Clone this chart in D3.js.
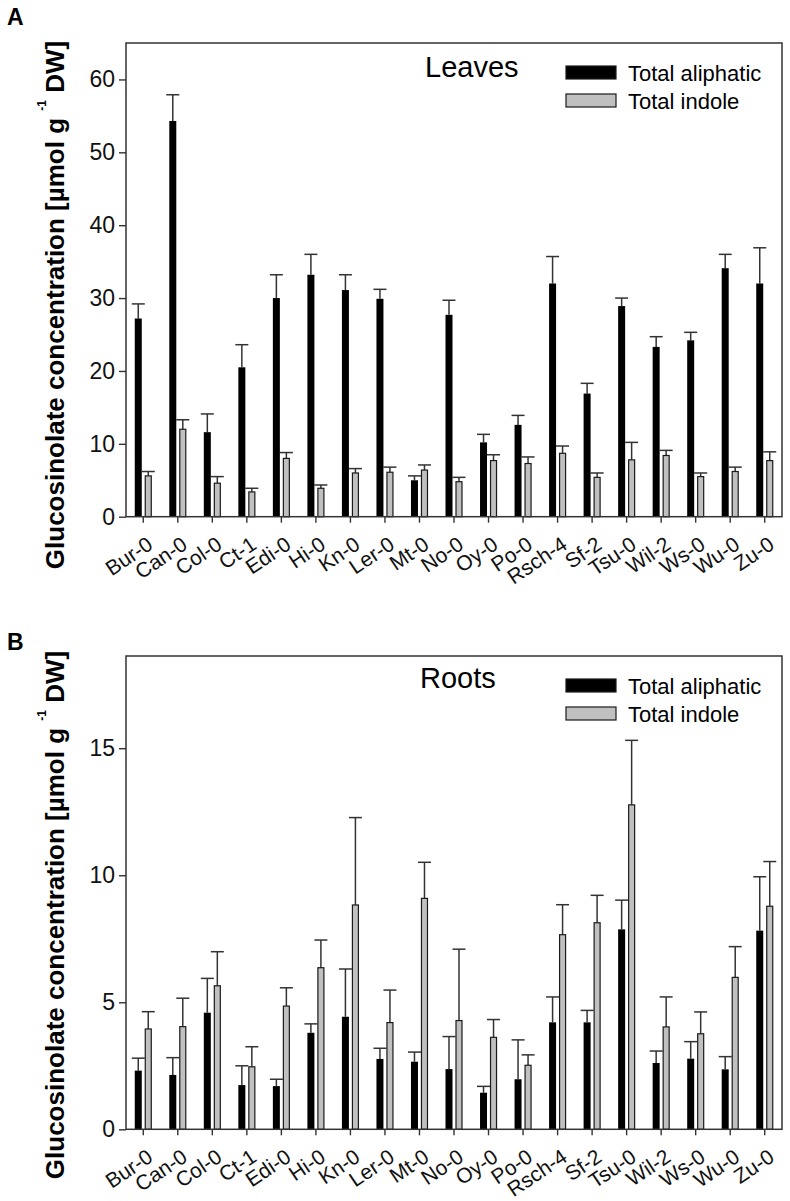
<!DOCTYPE html>
<html><head><meta charset="utf-8">
<script src="https://cdn.jsdelivr.net/npm/d3@7"></script>
<style>body{margin:0;background:#fff} svg{display:block} text{font-family:Arial,"Liberation Sans",Helvetica,sans-serif}</style>
</head><body><svg id="c" width="790" height="1201"></svg>
<script>
const categories = ["Bur-0","Can-0","Col-0","Ct-1","Edi-0","Hi-0","Kn-0","Ler-0","Mt-0","No-0","Oy-0","Po-0","Rsch-4","Sf-2","Tsu-0","Wil-2","Ws-0","Wu-0","Zu-0"];
const seriesNames = ["Total aliphatic","Total indole"];

const leavesAliphatic    = [27.2,54.3,11.6,20.5,30.0,33.2,31.1,29.9,5.0,27.7,10.2,12.6,32.0,16.9,28.9,23.3,24.2,34.1,32.0];
const leavesAliphaticErr = [2.0,3.6,2.5,3.1,3.2,2.8,2.1,1.3,0.6,2.0,1.1,1.3,3.7,1.4,1.1,1.4,1.1,1.9,4.9];
const leavesIndole       = [5.6,12.0,4.6,3.4,8.0,3.9,6.0,6.1,6.4,4.8,7.7,7.3,8.7,5.4,7.8,8.4,5.5,6.2,7.7];
const leavesIndoleErr    = [0.6,1.3,0.9,0.5,0.8,0.45,0.6,0.7,0.7,0.6,0.8,0.9,1.0,0.6,2.4,0.7,0.5,0.6,1.2];

const rootsAliphatic     = [2.31,2.14,4.59,1.74,1.70,3.80,4.43,2.77,2.66,2.37,1.44,1.97,4.21,4.21,7.87,2.61,2.78,2.36,7.82];
const rootsAliphaticErr  = [0.49,0.68,1.35,0.76,0.27,0.35,1.88,0.42,0.38,1.28,0.25,1.55,1.0,0.47,1.15,0.47,0.67,0.5,2.12];
const rootsIndole        = [3.95,4.04,5.65,2.46,4.85,6.36,8.83,4.20,9.09,4.28,3.62,2.52,7.66,8.13,12.77,4.03,3.76,5.98,8.78];
const rootsIndoleErr     = [0.68,1.12,1.34,0.79,0.72,1.09,3.44,1.28,1.42,2.81,0.70,0.41,1.18,1.08,2.54,1.18,0.86,1.21,1.76];

const leavesTicks = [0,10,20,30,40,50,60];
const rootsTicks = [0,5,10,15];

const svg = d3.select("#c");
const LEFT = 126, RIGHT = 782;
const AX = "#333";

function panel(o){
  const g = svg.append("g");
  const x = d3.scaleBand().domain(categories).range([LEFT, RIGHT]).padding(0);
  const y = d3.scaleLinear().domain([0, o.ymax]).range([o.bottom, o.top]);
  const cx = c => x(c) + x.bandwidth()/2;

  const drawErr = (vals, errs, off) => {
    const eg = g.append("g").attr("stroke", AX).attr("stroke-width", 1.5).attr("fill","none");
    categories.forEach((c,i)=>{
      const xc = cx(c) + off;
      eg.append("line").attr("x1",xc).attr("x2",xc).attr("y1",y(vals[i])).attr("y2",y(vals[i]+errs[i]));
      eg.append("line").attr("x1",xc-6.5).attr("x2",xc+6.5).attr("y1",y(vals[i]+errs[i])).attr("y2",y(vals[i]+errs[i]));
    });
  };
  drawErr(o.alip, o.alipErr, -5);
  drawErr(o.ind, o.indErr, 5);

  g.append("g").selectAll("rect").data(categories).join("rect")
    .attr("x", c => cx(c) - 8.5).attr("width", 7)
    .attr("y", (c,i) => y(o.alip[i])).attr("height", (c,i) => o.bottom - y(o.alip[i]))
    .attr("fill", "#000");
  g.append("g").selectAll("rect").data(categories).join("rect")
    .attr("x", c => cx(c) + 2).attr("width", 6)
    .attr("y", (c,i) => y(o.ind[i])).attr("height", (c,i) => o.bottom - y(o.ind[i]))
    .attr("fill", "#c0c0c0").attr("stroke", "#1a1a1a").attr("stroke-width", 1.2);

  const ya = g.append("g").attr("transform", `translate(${LEFT},0)`)
    .call(d3.axisLeft(y).tickValues(o.ticks).tickSize(7).tickPadding(4).tickFormat(d3.format("d")));
  ya.select(".domain").remove();
  ya.selectAll("line").attr("stroke", AX).attr("stroke-width", 1.4);
  ya.selectAll("text").attr("font-size", 23).attr("fill", "#111").attr("font-family", "Arial, 'Liberation Sans', sans-serif");

  const xa = g.append("g").attr("transform", `translate(0,${o.bottom})`)
    .call(d3.axisBottom(x).tickSize(6).tickPadding(0));
  xa.select(".domain").remove();
  xa.selectAll("line").attr("stroke", AX).attr("stroke-width", 1.4);
  xa.selectAll("text")
    .attr("font-size", 21).attr("fill", "#111").attr("font-family", "Arial, 'Liberation Sans', sans-serif")
    .attr("text-anchor", "end").attr("dy", null).attr("y", 0)
    .attr("transform", "translate(11,31) rotate(-34)");

  g.append("rect").attr("x", LEFT).attr("y", o.top).attr("width", RIGHT-LEFT).attr("height", o.bottom-o.top)
    .attr("fill", "none").attr("stroke", AX).attr("stroke-width", 1.5);

  const t = g.append("text").attr("transform", `translate(64,${o.titleY}) rotate(-90)`)
    .attr("text-anchor", "middle").attr("font-weight", "bold").attr("font-size", 26).attr("fill", "#000");
  t.append("tspan").text("Glucosinolate concentration [µmol g ");
  t.append("tspan").attr("font-size", 12).attr("dy", -18).text("-1");
  t.append("tspan").attr("dy", 18).text("  DW]");

  g.append("text").attr("x", 7).attr("y", o.letterY).attr("font-weight","bold").attr("font-size", 23).text(o.letter);

  g.append("text").attr("x", o.nameX).attr("y", o.nameY).attr("font-size", 29).attr("fill","#000").text(o.name);

  const lg = g.append("g");
  seriesNames.forEach((s,i)=>{
    const ly = o.legY + i*28;
    lg.append("rect").attr("x", 566).attr("y", ly).attr("width", 50).attr("height", 13)
      .attr("fill", i===0 ? "#000" : "#c0c0c0").attr("stroke", "#1a1a1a").attr("stroke-width", 1.2);
    lg.append("text").attr("x", 628).attr("y", ly + 15).attr("font-size", 22).attr("fill","#000").text(s);
  });
}

panel({top:43, bottom:516.7, ymax:65, ticks:leavesTicks,
  alip:leavesAliphatic, alipErr:leavesAliphaticErr, ind:leavesIndole, indErr:leavesIndoleErr,
  titleY:305, letter:"A", letterY:25, name:"Leaves", nameX:425, nameY:77, legY:66});
panel({top:656, bottom:1129.3, ymax:18.63, ticks:rootsTicks,
  alip:rootsAliphatic, alipErr:rootsAliphaticErr, ind:rootsIndole, indErr:rootsIndoleErr,
  titleY:915, letter:"B", letterY:650, name:"Roots", nameX:420, nameY:688, legY:679});
</script></body></html>
